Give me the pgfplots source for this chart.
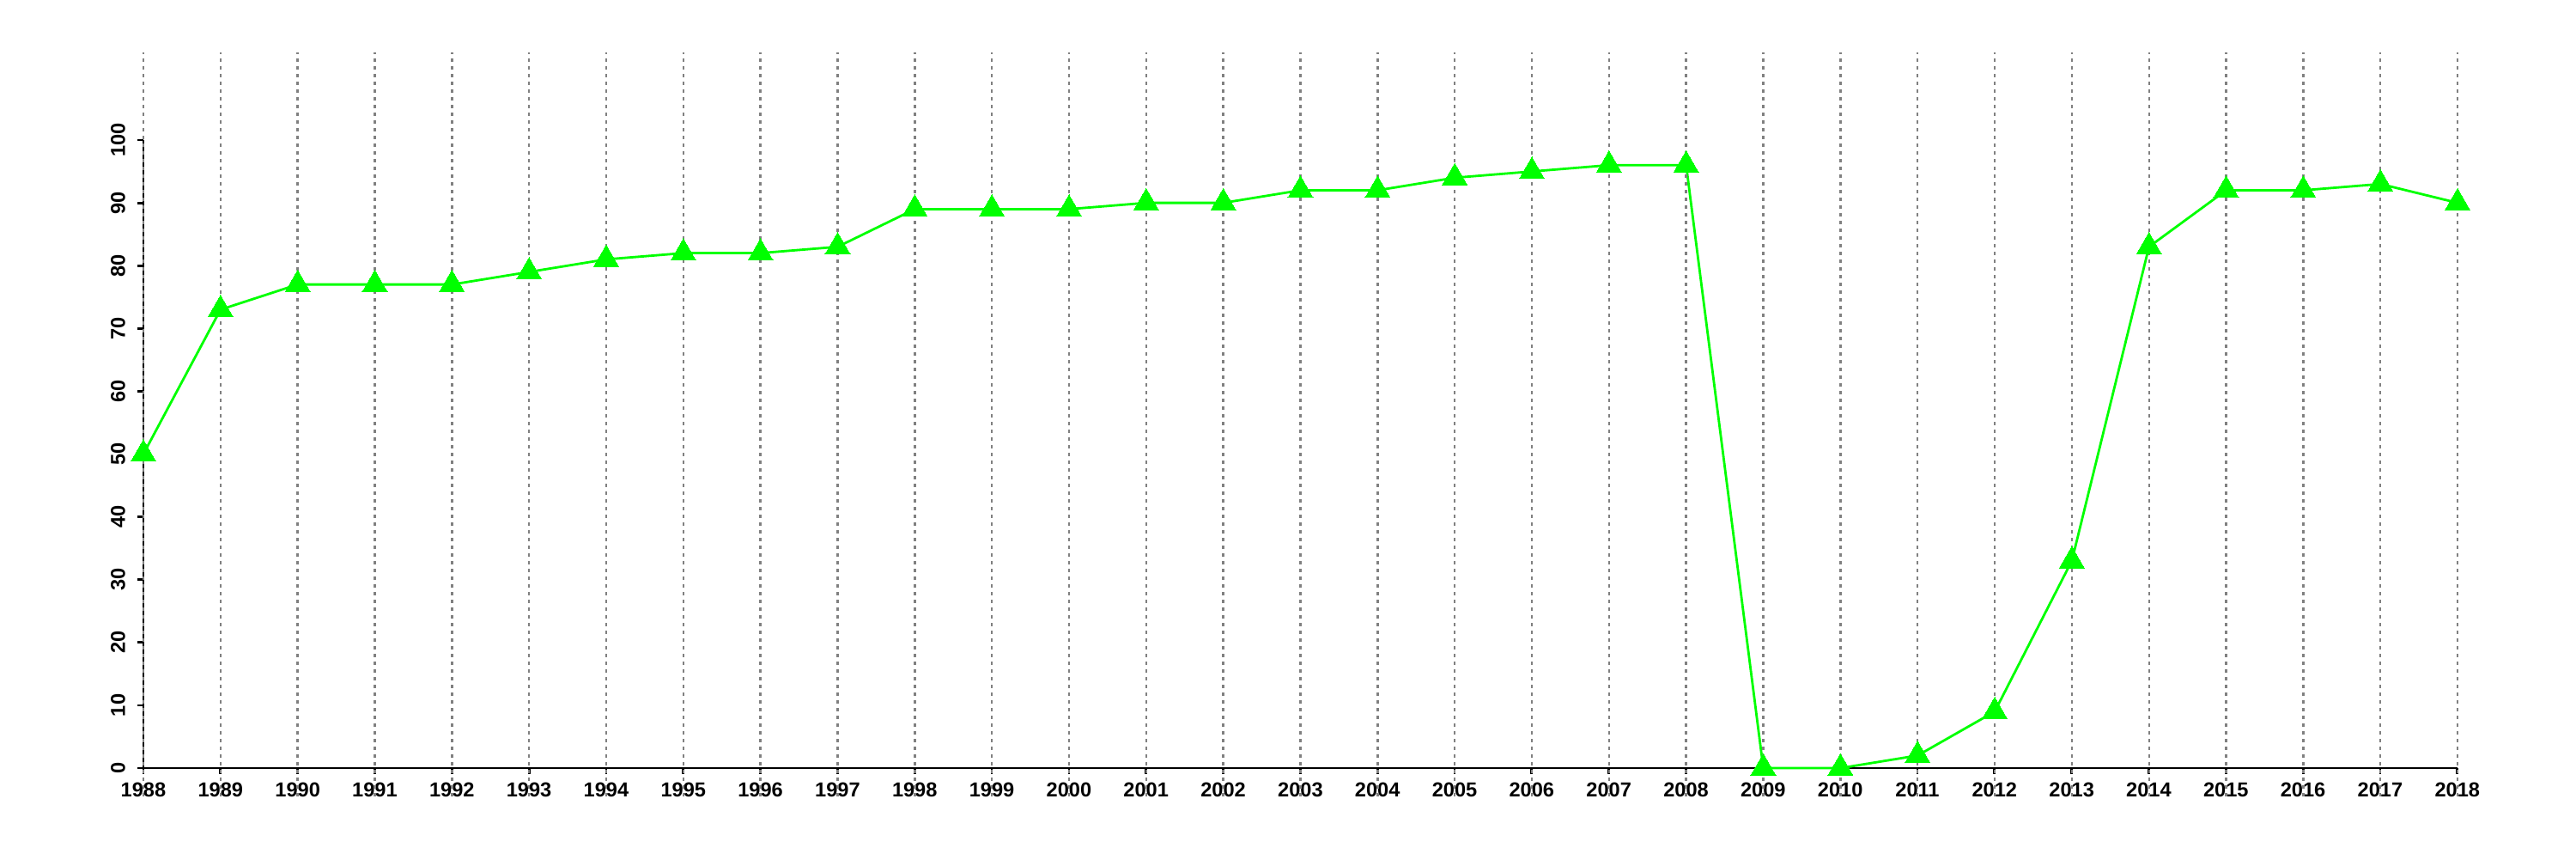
\documentclass[border=0pt]{standalone}
\usepackage{fontspec}
\setmainfont{Liberation Sans}
\usepackage{pgfplots}
\pgfplotsset{compat=1.18}
\definecolor{lgreen}{RGB}{0,255,0}
\begin{document}
\begin{tikzpicture}
\begin{axis}[
 scale only axis, width=673.75pt, height=182.75pt,
 xmin=1988, xmax=2018, ymin=0, ymax=100,
 axis x line*=bottom, axis y line*=left,
 axis line style={line width=0.7pt, -},
 clip=false,
 xtick={1988,1989,...,2018}, ytick={0,10,...,100},
 tick style={black, line width=0.7pt},
 tick align=outside, major tick length=1.75pt,
 /pgf/number format/1000 sep={},
 /pgf/number format/assume math mode=true,
 tick label style={font=\fontsize{5.9}{6}\selectfont\bfseries},
 yticklabel style={rotate=90, anchor=south, xshift=0pt},
 xticklabel style={anchor=north, yshift=1pt},
]
\addplot[color=lgreen, line width=0.7pt, mark=triangle*, mark size=4.2pt, mark options={fill=lgreen, draw=lgreen, line width=0pt}] coordinates {
(1988,50) (1989,73) (1990,77) (1991,77) (1992,77) (1993,79) (1994,81) (1995,82) (1996,82) (1997,83)
(1998,89) (1999,89) (2000,89) (2001,90) (2002,90) (2003,92) (2004,92) (2005,94) (2006,95) (2007,96)
(2008,96) (2009,0) (2010,0) (2011,2) (2012,9) (2013,33) (2014,83) (2015,92) (2016,92) (2017,93) (2018,90)
};
\pgfplotsinvokeforeach{1988,1989,...,2018}{
  \draw[gray, line width=0.6pt, dash pattern=on 1pt off 1.25pt] (axis cs:#1,-4.5) -- (axis cs:#1,114);
}
\path (axis cs:1986.141,-14.5) rectangle (axis cs:2019.536,122.3);
\end{axis}
\end{tikzpicture}
\end{document}
